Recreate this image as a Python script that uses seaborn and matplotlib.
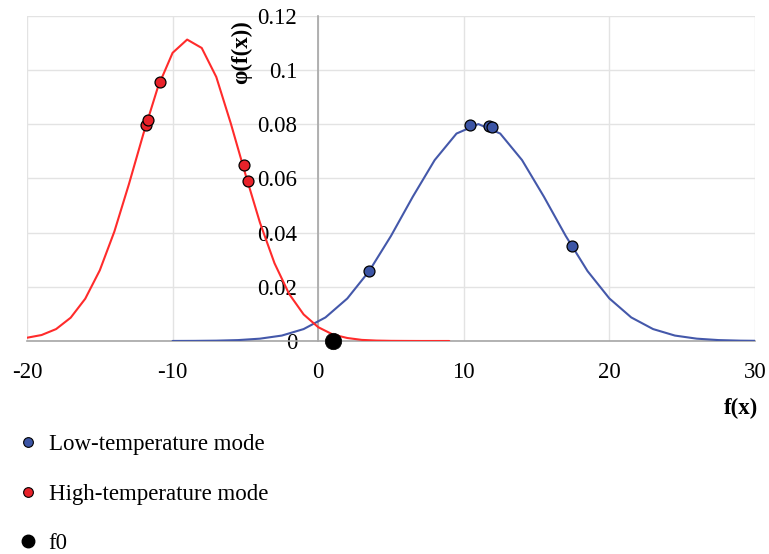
import matplotlib
matplotlib.use("Agg")
import matplotlib.pyplot as plt
import seaborn as sns
from matplotlib.lines import Line2D

# ---- data ----
red_x = list(range(-20, 10))
red_y = [0.0012, 0.0022, 0.0044, 0.0086, 0.0156, 0.0261, 0.0404, 0.0579, 0.0766, 0.0939,
         0.1064, 0.1113, 0.1082, 0.0975, 0.0803, 0.0616, 0.0437, 0.0287, 0.0174, 0.0098,
         0.0051, 0.0024, 0.0011, 0.0004, 0.00015, 0.00005, 0.00002, 0.0, 0.0, 0.0]

blue_x = [-10, -8.5, -7, -5.5, -4, -2.5, -1, 0.5, 2, 3.5, 5, 6.5, 8, 9.5, 11, 12.5, 14,
          15.5, 17, 18.5, 20, 21.5, 23, 24.5, 26, 27.5, 29, 30.5]
blue_y = [0.00001, 0.00004, 0.00012, 0.00033, 0.00086, 0.0020, 0.0044, 0.0087, 0.0157,
          0.0258, 0.0388, 0.0533, 0.0668, 0.0766, 0.0801, 0.0766, 0.0668, 0.0533, 0.0388,
          0.0258, 0.0157, 0.0087, 0.0044, 0.0020, 0.00086, 0.00033, 0.00012, 0.00004]

low_pts_x = [3.5, 10.45, 11.75, 11.95, 17.45]
low_pts_y = [0.0258, 0.0798, 0.0795, 0.0789, 0.0350]
high_pts_x = [-11.8, -11.7, -10.85, -5.1, -4.8]
high_pts_y = [0.0797, 0.0815, 0.0956, 0.0649, 0.0590]
f0_x = [1.05]
f0_y = [0.0]

x_ticks = [-20, -10, 0, 10, 20, 30]
y_ticks = [0, 0.02, 0.04, 0.06, 0.08, 0.1, 0.12]
y_tick_labels = ["0", "0.02", "0.04", "0.06", "0.08", "0.1", "0.12"]
legend_labels = ["Low-temperature mode", "High-temperature mode", "f0"]

# ---- style ----
sns.set_theme(style="white")
plt.rcParams["font.family"] = ["Liberation Serif", "DejaVu Serif"]
plt.rcParams["font.size"] = 16.5
plt.rcParams["text.color"] = "black"
plt.rcParams["axes.labelcolor"] = "black"
plt.rcParams["xtick.color"] = "black"
plt.rcParams["ytick.color"] = "black"

BLUE_LINE = "#4458AA"
BLUE_PT = "#3C55A5"
RED_LINE = "#FF2B2B"
RED_PT = "#E8222A"
GRID = "#E3E3E3"
AXIS = "#A6A6A6"
FS = 16.5

fig = plt.figure(figsize=(7.69, 5.54), dpi=100)
ax = fig.add_axes([0.0351, 0.3845, 0.9467, 0.5866])

sns.lineplot(x=blue_x, y=blue_y, color=BLUE_LINE, linewidth=1.5, ax=ax, zorder=2)
sns.lineplot(x=red_x, y=red_y, color=RED_LINE, linewidth=1.5, ax=ax, zorder=2)

sns.scatterplot(x=low_pts_x, y=low_pts_y, color=BLUE_PT, edgecolor="black",
                linewidth=0.9, s=62, ax=ax, zorder=4)
sns.scatterplot(x=high_pts_x, y=high_pts_y, color=RED_PT, edgecolor="black",
                linewidth=0.9, s=62, ax=ax, zorder=4)
sns.scatterplot(x=f0_x, y=f0_y, color="black", edgecolor="black",
                linewidth=0.5, s=140, ax=ax, zorder=5)
ax.collections[-1].set_clip_on(False)

ax.set_xlim(-20, 30)
ax.set_ylim(0, 0.12)
ax.set_xticks(x_ticks)
ax.set_xticklabels([str(v) for v in x_ticks])
ax.set_yticks(y_ticks)
ax.set_yticklabels(y_tick_labels)

ax.grid(True, color=GRID, linewidth=1.0, zorder=0)
ax.set_axisbelow(True)

for s in ["top", "right"]:
    ax.spines[s].set_visible(False)
ax.spines["left"].set_position(("data", 0))
ax.spines["left"].set_color(AXIS)
ax.spines["bottom"].set_color(AXIS)
ax.spines["left"].set_linewidth(1.2)
ax.spines["bottom"].set_linewidth(1.2)
ax.spines["left"].set_zorder(1)
ax.spines["bottom"].set_zorder(1)

ax.tick_params(axis="y", length=0, pad=15, labelsize=FS, labelcolor="black")
ax.tick_params(axis="x", length=0, pad=15, labelsize=FS, labelcolor="black")
ax.set_xlabel("")
ax.set_ylabel("")

fig.text(242 / 769, 1 - 52 / 554, "φ(f(x))", rotation=90, fontsize=FS,
         fontweight="bold", ha="center", va="center", color="black")
fig.text(741 / 769, 1 - 408 / 554, "f(x)", fontsize=FS, fontweight="bold",
         ha="center", va="center", color="black")

handles = [
    Line2D([], [], marker="o", linestyle="", markerfacecolor=BLUE_PT,
           markeredgecolor="black", markeredgewidth=0.8, markersize=7),
    Line2D([], [], marker="o", linestyle="", markerfacecolor=RED_PT,
           markeredgecolor="black", markeredgewidth=0.8, markersize=7),
    Line2D([], [], marker="o", linestyle="", markerfacecolor="black",
           markeredgecolor="black", markersize=9),
]
leg = fig.legend(handles, legend_labels, loc="upper left",
                 bbox_to_anchor=(16.7 / 769, 1 - 434 / 554), frameon=False,
                 borderpad=0, borderaxespad=0, handlelength=1.0, handletextpad=0.4,
                 labelspacing=1.25, fontsize=FS)
for t in leg.get_texts():
    t.set_color("black")

fig.savefig("out.png", dpi=100)
